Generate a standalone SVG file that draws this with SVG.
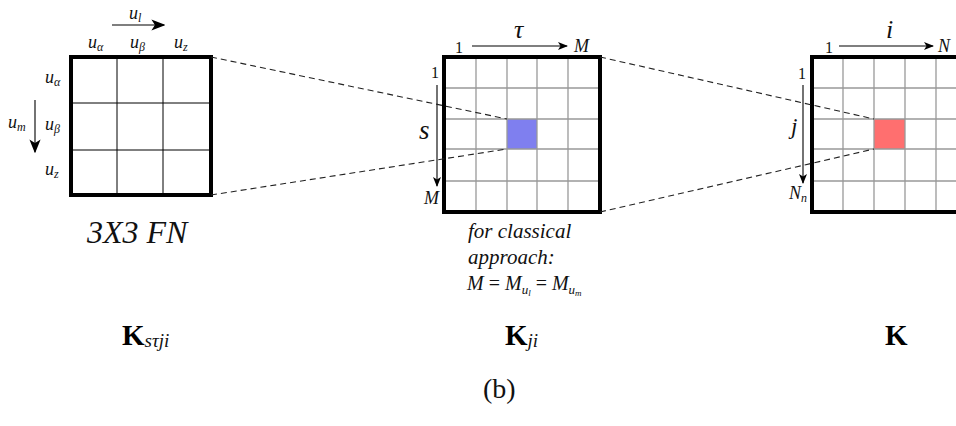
<svg xmlns="http://www.w3.org/2000/svg" width="956" height="426" viewBox="0 0 956 426">
<style>
.m{font-family:"Liberation Serif","Times New Roman",serif;font-style:italic;fill:#111}
.r{font-family:"Liberation Serif","Times New Roman",serif;fill:#111}
.b{font-family:"Liberation Serif","Times New Roman",serif;font-weight:bold;fill:#000}
.border{fill:none;stroke:#000;stroke-width:4}
.g1{stroke:#000;stroke-width:1}
.g2{stroke:#999;stroke-width:1.3}
.dash{stroke:#222;stroke-width:1.1;stroke-dasharray:6 4;fill:none}
.arr{stroke:#000;stroke-width:1.1;fill:none}
</style>
<defs>
<marker id="ah" viewBox="0 0 10 10" refX="9" refY="5" markerWidth="10" markerHeight="10" markerUnits="userSpaceOnUse" orient="auto">
<path d="M0,1 L10,5 L0,9 L2.5,5 Z" fill="#000"/>
</marker>
<marker id="ahb" viewBox="0 0 10 10" refX="9" refY="5" markerWidth="14" markerHeight="14" markerUnits="userSpaceOnUse" orient="auto">
<path d="M0,1 L10,5 L0,9 L2.5,5 Z" fill="#000"/>
</marker>
</defs>
<rect width="956" height="426" fill="#fff"/>
<g id="fn-matrix">
<line class="g1" x1="117" y1="57" x2="117" y2="195"/>
<line class="g1" x1="163" y1="57" x2="163" y2="195"/>
<line class="g1" x1="71" y1="103" x2="211" y2="103"/>
<line class="g1" x1="71" y1="150" x2="211" y2="150"/>
<rect class="border" x="71" y="57" width="140" height="138"/>
<line class="arr" x1="112" y1="25" x2="164" y2="25" stroke-width="1.5" marker-end="url(#ahb)"/>
<text class="m" x="129" y="19" font-size="18">u<tspan font-size="12" dy="3">l</tspan></text>
<text class="m" x="88" y="48" font-size="18">u<tspan font-size="12" dy="3">α</tspan></text>
<text class="m" x="130" y="48" font-size="18">u<tspan font-size="12" dy="3">β</tspan></text>
<text class="m" x="174" y="48" font-size="18">u<tspan font-size="12" dy="3">z</tspan></text>
<text class="m" x="45" y="83" font-size="18">u<tspan font-size="12" dy="3">α</tspan></text>
<text class="m" x="45" y="130" font-size="18">u<tspan font-size="12" dy="3">β</tspan></text>
<text class="m" x="45" y="175" font-size="18">u<tspan font-size="12" dy="3">z</tspan></text>
<text class="m" x="8" y="128" font-size="18">u<tspan font-size="12" dy="3">m</tspan></text>
<line class="arr" x1="35" y1="100" x2="35" y2="152" stroke-width="1.5" marker-end="url(#ahb)"/>
<text class="m" x="87" y="243" font-size="32" fill="#222">3X3 FN</text>
</g>
<g id="kji-matrix">
<rect x="507" y="119" width="30" height="30" fill="#7f7fef"/>
<line class="g2" x1="476" y1="57" x2="476" y2="212"/>
<line class="g2" x1="507" y1="57" x2="507" y2="212"/>
<line class="g2" x1="537" y1="57" x2="537" y2="212"/>
<line class="g2" x1="568" y1="57" x2="568" y2="212"/>
<line class="g2" x1="444" y1="88" x2="600" y2="88"/>
<line class="g2" x1="444" y1="119" x2="600" y2="119"/>
<line class="g2" x1="444" y1="149" x2="600" y2="149"/>
<line class="g2" x1="444" y1="181" x2="600" y2="181"/>
<rect class="border" x="444" y="57" width="156" height="155"/>
<text class="r" x="455" y="53" font-size="16">1</text>
<line class="arr" x1="472" y1="46" x2="567" y2="46" marker-end="url(#ah)"/>
<text class="m" x="514" y="38" font-size="26">τ</text>
<text class="m" x="574" y="52" font-size="18">M</text>
<text class="r" x="431" y="78" font-size="16">1</text>
<line class="arr" x1="437" y1="85" x2="437" y2="186" marker-end="url(#ah)"/>
<text class="m" x="419" y="139" font-size="27">s</text>
<text class="m" x="424" y="204" font-size="18">M</text>
<text class="m" x="468" y="238" font-size="21">for classical</text>
<text class="m" x="468" y="264" font-size="21">approach:</text>
<text class="r" x="467" y="290" font-size="20"><tspan font-style="italic">M</tspan> = <tspan font-style="italic">M</tspan><tspan font-style="italic" font-size="13" dy="4">u</tspan><tspan font-style="italic" font-size="9" dy="2">l</tspan><tspan dy="-6"> = </tspan><tspan font-style="italic">M</tspan><tspan font-style="italic" font-size="13" dy="4">u</tspan><tspan font-style="italic" font-size="9" dy="2">m</tspan></text>
</g>
<g id="k-matrix">
<rect x="874" y="119" width="31" height="30" fill="#ff6f6f"/>
<line class="g2" x1="843" y1="57" x2="843" y2="212"/>
<line class="g2" x1="874" y1="57" x2="874" y2="212"/>
<line class="g2" x1="905" y1="57" x2="905" y2="212"/>
<line class="g2" x1="936" y1="57" x2="936" y2="212"/>
<line class="g2" x1="812" y1="88" x2="970" y2="88"/>
<line class="g2" x1="812" y1="119" x2="970" y2="119"/>
<line class="g2" x1="812" y1="149" x2="970" y2="149"/>
<line class="g2" x1="812" y1="181" x2="970" y2="181"/>
<rect class="border" x="812" y="57" width="160" height="155"/>
<text class="r" x="825" y="53" font-size="16">1</text>
<line class="arr" x1="839" y1="46" x2="933" y2="46" marker-end="url(#ah)"/>
<text class="m" x="886" y="38" font-size="26">i</text>
<text class="m" x="938" y="52" font-size="18">N</text>
<text class="r" x="798" y="79" font-size="16">1</text>
<line class="arr" x1="803" y1="85" x2="803" y2="183" marker-end="url(#ah)"/>
<text class="m" x="791" y="134" font-size="23">j</text>
<text class="m" x="789" y="199" font-size="18">N<tspan font-size="12" dy="3">n</tspan></text>
</g>
<g id="connectors">
<line class="dash" x1="211" y1="57" x2="507" y2="119"/>
<line class="dash" x1="211" y1="195" x2="507" y2="149"/>
<line class="dash" x1="600" y1="57" x2="874" y2="119"/>
<line class="dash" x1="600" y1="212" x2="874" y2="149"/>
</g>
<g id="labels">
<text class="b" x="122" y="345" font-size="29">K<tspan class="m" font-weight="normal" font-size="19" dy="2">sτji</tspan></text>
<text class="b" x="505" y="345" font-size="29">K<tspan class="m" font-weight="normal" font-size="19" dy="2">ji</tspan></text>
<text class="b" x="885" y="345" font-size="29">K</text>
<text class="r" x="483" y="398" font-size="28">(b)</text>
</g>
</svg>
